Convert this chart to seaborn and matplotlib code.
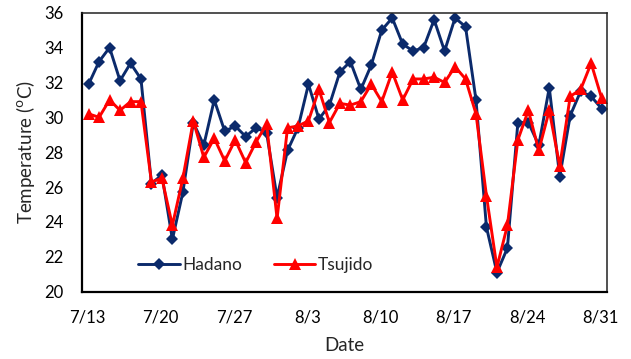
import numpy as np
import pandas as pd
import matplotlib
matplotlib.use("Agg")
import matplotlib.pyplot as plt
import matplotlib.transforms as mtransforms
from matplotlib.lines import Line2D
import seaborn as sns

# ---- data (daily values, 7/13 .. 8/31) ----
dates = pd.date_range("2013-07-13", "2013-08-31", freq="D")
hadano = [31.9, 33.2, 34.0, 32.1, 33.1, 32.2, 26.2, 26.7, 23.0, 25.7,
          29.7, 28.4, 31.0, 29.2, 29.5, 28.9, 29.4, 29.1, 25.4, 28.1,
          29.4, 31.9, 29.9, 30.7, 32.6, 33.2, 31.6, 33.0, 35.0, 35.7,
          34.2, 33.8, 34.0, 35.6, 33.8, 35.7, 35.2, 31.0, 23.7, 21.1,
          22.5, 29.7, 29.7, 28.4, 31.7, 26.6, 30.1, 31.5, 31.2, 30.5]
tsujido = [30.2, 30.0, 31.0, 30.4, 30.9, 30.9, 26.3, 26.5, 23.8, 26.5,
           29.8, 27.7, 28.8, 27.5, 28.7, 27.4, 28.6, 29.6, 24.2, 29.4,
           29.5, 29.8, 31.6, 29.7, 30.8, 30.7, 30.9, 31.9, 30.9, 32.6,
           31.0, 32.2, 32.2, 32.3, 32.0, 32.9, 32.2, 30.2, 25.5, 21.4,
           23.8, 28.7, 30.4, 28.1, 30.4, 27.2, 31.2, 31.6, 33.1, 31.1]
tick_labels = ["7/13", "7/20", "7/27", "8/3", "8/10", "8/17", "8/24", "8/31"]
y_ticks = [20, 22, 24, 26, 28, 30, 32, 34, 36]

day = np.arange(len(dates)) + 0.5
df = pd.DataFrame({"day": np.concatenate([day, day]),
                   "temp": hadano + tsujido,
                   "site": ["Hadano"] * len(day) + ["Tsujido"] * len(day)})

sns.set_style("white")
plt.rcParams["font.family"] = ["Lato", "DejaVu Sans"]

fig = plt.figure(figsize=(6.31, 3.59), dpi=100)
ax = fig.add_axes([0.1295, 0.1875, 0.9624 - 0.1295, 0.9646 - 0.1875])

palette = {"Hadano": "#0B2A6B", "Tsujido": "#FF0000"}
sns.lineplot(data=df, x="day", y="temp", hue="site", style="site",
             markers={"Hadano": "D", "Tsujido": "^"}, dashes=False,
             palette=palette, linewidth=2.1, markersize=7,
             markeredgewidth=0, ax=ax, legend=False)
for line, ms in zip(ax.lines, [6.5, 8.5]):
    line.set_markersize(ms)

ax.set_xlim(-0.16, 50.04)
ax.set_ylim(20, 36)
ax.set_xticks(np.arange(0, 50, 7))
ax.set_xticklabels(tick_labels)
ax.set_yticks(y_ticks)
ax.tick_params(axis="both", direction="in", length=5, width=1.2,
               labelsize=12, colors="black")
ax.tick_params(axis="y", pad=13)
ax.tick_params(axis="x", pad=13)
offset = mtransforms.ScaledTranslation(4 / 100, 0, fig.dpi_scale_trans)
for lbl in ax.get_xticklabels():
    lbl.set_transform(lbl.get_transform() + offset)

for side in ["left", "bottom"]:
    ax.spines[side].set_color("black")
    ax.spines[side].set_linewidth(1.6)
for side in ["top", "right"]:
    ax.spines[side].set_color("#222222")
    ax.spines[side].set_linewidth(1.1)

ax.set_xlabel("Date", fontsize=13.5, labelpad=8)
ax.set_ylabel("Temperature ($^{\\mathrm{o}}$C)", fontsize=13.5, labelpad=5)

handles = [Line2D([], [], color=palette["Hadano"], marker="D", lw=2.1, ms=6.5, mew=0),
           Line2D([], [], color=palette["Tsujido"], marker="^", lw=2.1, ms=8.5, mew=0)]
ax.legend(handles, ["Hadano", "Tsujido"], ncol=2, frameon=False,
          loc="lower left", bbox_to_anchor=(0.078, 0.01), fontsize=12.5,
          handlelength=2.4, handletextpad=0.15, columnspacing=1.8)

fig.savefig("out.png", dpi=100)
